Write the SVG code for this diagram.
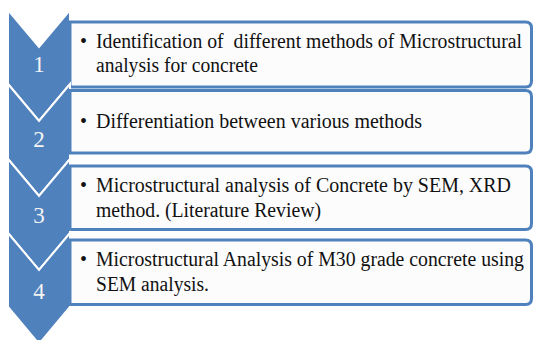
<svg xmlns="http://www.w3.org/2000/svg" width="534" height="340" viewBox="0 0 534 340">
<style>
.chev{fill:#4f81bd;stroke:#ffffff;stroke-width:2;stroke-linejoin:miter}
.box{fill:#fcfcfc;stroke:#4f81bd;stroke-width:3}
.num{font-family:"Liberation Serif","Times New Roman",serif;font-size:23px;fill:#f4f4f4;text-anchor:middle}
.txt{font-family:"Liberation Serif","Times New Roman",serif;font-size:20px;fill:#111111;white-space:pre}
</style>
<rect width="534" height="340" fill="#ffffff"/>
<g id="step1">
<polygon class="chev" points="8,10 39,47 70,10 70,84 39,121 8,84"/>
<path class="box" d="M70,22 H525.5 Q531.5,22 531.5,28 V81 Q531.5,87 525.5,87 H70 Z"/>
<text class="num" x="39" y="72">1</text>
<text class="txt" x="80" y="48">•</text>
<text class="txt" x="96" y="48" textLength="426" lengthAdjust="spacingAndGlyphs">Identification of  different methods of Microstructural</text>
<text class="txt" x="96" y="72" textLength="162" lengthAdjust="spacingAndGlyphs">analysis for concrete</text>
</g>
<g id="step2">
<polygon class="chev" points="8,84 39,121 70,84 70,159 39,196 8,159"/>
<path class="box" d="M70,90.5 H525.5 Q531.5,90.5 531.5,96.5 V147 Q531.5,153 525.5,153 H70 Z"/>
<text class="num" x="39" y="147">2</text>
<text class="txt" x="80" y="128">•</text>
<text class="txt" x="96" y="128" textLength="326" lengthAdjust="spacingAndGlyphs">Differentiation between various methods</text>
</g>
<g id="step3">
<polygon class="chev" points="8,159 39,196 70,159 70,233 39,270 8,233"/>
<path class="box" d="M70,166 H525.5 Q531.5,166 531.5,172 V223.5 Q531.5,229.5 525.5,229.5 H70 Z"/>
<text class="num" x="39" y="223">3</text>
<text class="txt" x="80" y="192">•</text>
<text class="txt" x="96" y="192" textLength="415" lengthAdjust="spacingAndGlyphs">Microstructural analysis of Concrete by SEM, XRD</text>
<text class="txt" x="96" y="217" textLength="225" lengthAdjust="spacingAndGlyphs">method. (Literature Review)</text>
</g>
<g id="step4">
<polygon class="chev" points="8,233 39,270 70,233 70,307 39,344 8,307"/>
<path class="box" d="M70,240 H525.5 Q531.5,240 531.5,246 V298.5 Q531.5,304.5 525.5,304.5 H70 Z"/>
<text class="num" x="39" y="299">4</text>
<text class="txt" x="80" y="266">•</text>
<text class="txt" x="96" y="266" textLength="428" lengthAdjust="spacingAndGlyphs">Microstructural Analysis of M30 grade concrete using</text>
<text class="txt" x="96" y="291" textLength="113" lengthAdjust="spacingAndGlyphs">SEM analysis.</text>
</g>
<g id="connectors"></g>
</svg>
